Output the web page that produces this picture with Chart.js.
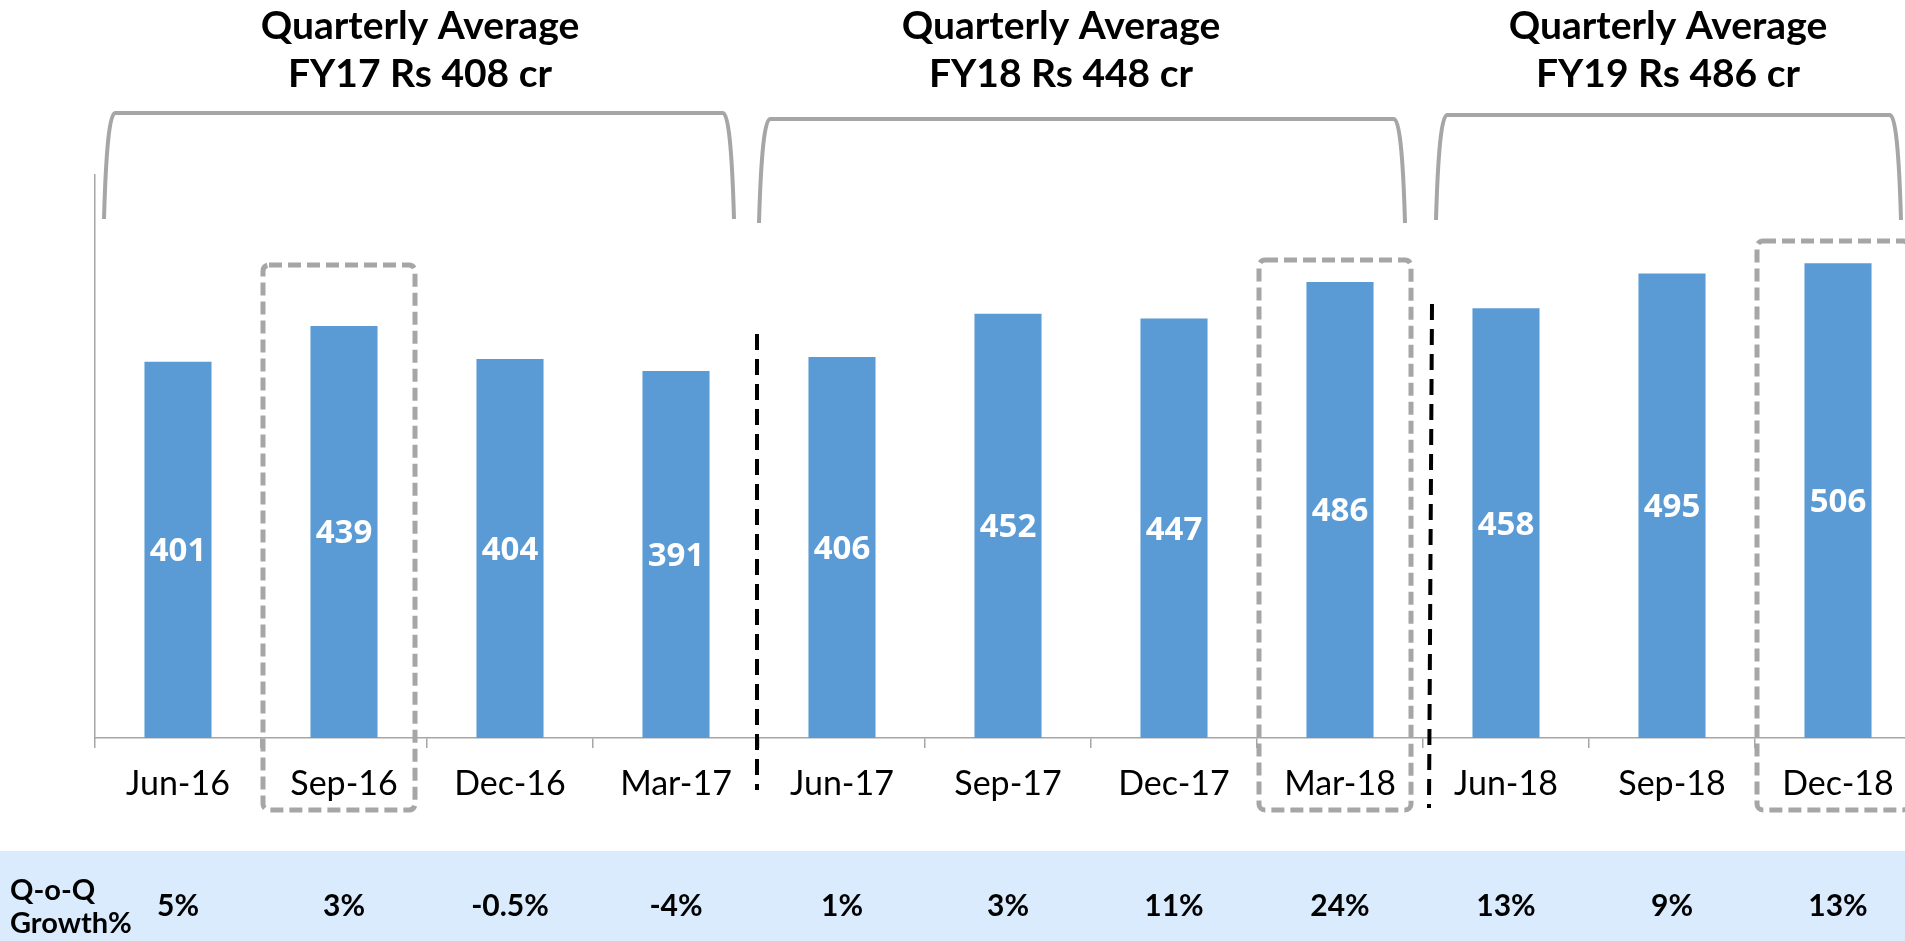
<!DOCTYPE html>
<html><head><meta charset="utf-8">
<script src="https://cdn.jsdelivr.net/npm/chart.js@4"></script>
<style>
html,body{margin:0;padding:0;overflow:hidden;background:#fff;width:1905px;height:941px}
#wrap{position:absolute;left:0;top:0;width:1925px;height:941px}
</style></head><body>
<div id="wrap"><canvas id="c" width="1925" height="941"></canvas></div>
<script>
const categories = ['Jun-16','Sep-16','Dec-16','Mar-17','Jun-17','Sep-17','Dec-17','Mar-18','Jun-18','Sep-18','Dec-18'];
const revenue = [401,439,404,391,406,452,447,486,458,495,506];
const growthLabels = ['5%','3%','-0.5%','-4%','1%','3%','11%','24%','13%','9%','13%'];
const growthRowTitle = ['Q-o-Q','Growth%'];
const groupTitleLine1 = ['Quarterly Average','Quarterly Average','Quarterly Average'];
const groupTitleLine2 = ['FY17 Rs 408 cr','FY18 Rs 448 cr','FY19 Rs 486 cr'];
const highlighted = [1,7,10];

const GRAY = '#A6A6A6';

const decor = {
  id: 'decor',
  beforeDraw(chart) {
    const ctx = chart.ctx;
    ctx.save();
    ctx.fillStyle = '#D9EBFC';
    ctx.fillRect(0, 851, chart.width, 941 - 851);
    ctx.restore();
  },
  afterDraw(chart) {
    const ctx = chart.ctx;
    const xs = chart.scales.x;
    ctx.save();
    // group titles
    const titleX = [420, 1061, 1668];
    ctx.fillStyle = '#000';
    ctx.font = 'bold 39px Lato';
    ctx.textAlign = 'center';
    ctx.textBaseline = 'alphabetic';
    for (let g = 0; g < 3; g++) {
      ctx.fillText(groupTitleLine1[g], titleX[g], 39);
      ctx.fillText(groupTitleLine2[g], titleX[g], 87);
    }
    // brackets
    const brackets = [[104, 734, 113, 219], [759, 1405, 119, 223], [1436, 1901, 115, 220]];
    ctx.strokeStyle = GRAY;
    ctx.lineWidth = 4;
    ctx.setLineDash([]);
    for (const [xl, xr, yt, yb] of brackets) {
      ctx.beginPath();
      ctx.moveTo(xl, yb);
      ctx.quadraticCurveTo(xl + 3, yt, xl + 11, yt);
      ctx.lineTo(xr - 11, yt);
      ctx.quadraticCurveTo(xr - 3, yt, xr, yb);
      ctx.stroke();
    }
    // dashed highlight boxes
    const boxTops = [265, 260, 241];
    ctx.setLineDash([13, 6]);
    ctx.lineWidth = 5;
    highlighted.forEach((idx, k) => {
      const cx = xs.getPixelForValue(idx);
      const x0 = cx - 81, w = 152, y0 = boxTops[k], h = 810 - y0;
      ctx.beginPath();
      ctx.roundRect(x0, y0, w, h, 6);
      ctx.stroke();
    });
    // black dashed separators
    ctx.strokeStyle = '#000';
    ctx.lineWidth = 4;
    ctx.setLineDash([16, 9]);
    ctx.beginPath(); ctx.moveTo(757, 334); ctx.lineTo(757, 790); ctx.stroke();
    ctx.beginPath(); ctx.moveTo(1432, 304); ctx.lineTo(1429, 808); ctx.stroke();
    ctx.setLineDash([]);
    // growth row
    ctx.fillStyle = '#000';
    ctx.font = 'bold 29px Lato';
    ctx.textAlign = 'left';
    ctx.fillText(growthRowTitle[0], 10, 900);
    ctx.fillText(growthRowTitle[1], 10, 933);
    ctx.font = 'bold 30px Lato';
    ctx.textAlign = 'center';
    growthLabels.forEach((t, i) => {
      ctx.fillText(t, xs.getPixelForValue(i), 916);
    });
    ctx.restore();
  },
  afterDatasetsDraw(chart) {
    const ctx = chart.ctx;
    const meta = chart.getDatasetMeta(0);
    ctx.save();
    ctx.fillStyle = '#fff';
    ctx.font = 'bold 33px "Open Sans"';
    ctx.textAlign = 'center';
    ctx.textBaseline = 'middle';
    meta.data.forEach((el, i) => {
      ctx.fillText(String(revenue[i]), el.x, (el.y + el.base) / 2 + 2);
    });
    ctx.restore();
  }
};

new Chart(document.getElementById('c'), {
  type: 'bar',
  data: {
    labels: categories,
    datasets: [{
      data: revenue,
      backgroundColor: '#5B9BD5',
      borderWidth: 0,
      categoryPercentage: 1,
      barPercentage: 0.404
    }]
  },
  options: {
    responsive: false,
    animation: false,
    devicePixelRatio: 1,
    layout: { padding: { left: 95, top: 175, right: 4, bottom: 0 } },
    plugins: { legend: { display: false }, tooltip: { enabled: false }, title: { display: false } },
    scales: {
      x: {
        offset: true,
        grid: { display: true, drawOnChartArea: false, drawTicks: true, tickLength: 10, color: GRAY, lineWidth: 1.5, offset: true },
        border: { display: true, color: GRAY, width: 1.5 },
        ticks: { color: '#000', font: { family: 'Lato', size: 34 }, padding: 16, maxRotation: 0, autoSkip: false },
        afterFit(scale) { scale.height = 203; }
      },
      y: {
        min: 0, max: 600,
        grid: { display: false },
        border: { display: true, color: GRAY, width: 1.5 },
        ticks: { display: false },
        afterFit(scale) { scale.width = 0; }
      }
    }
  },
  plugins: [decor]
});
</script>
</body></html>
